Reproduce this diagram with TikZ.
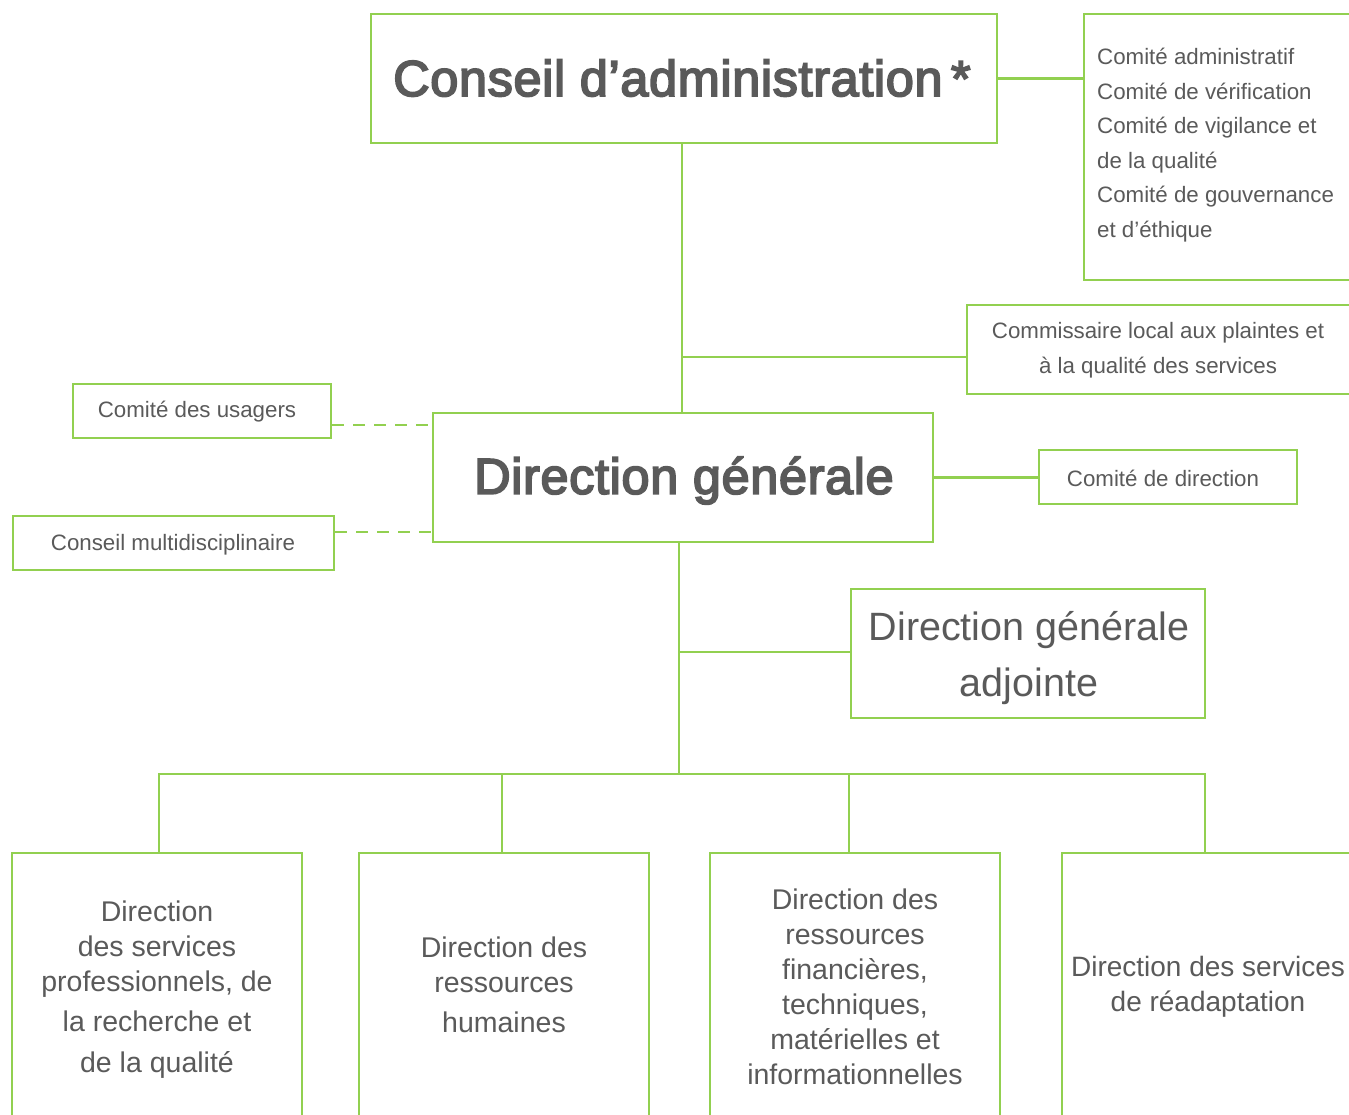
\documentclass[tikz,border=0pt]{standalone}
\usepackage{fontspec}
\setmainfont{Liberation Sans}
\newfontfamily\medfont[FakeBold=3.5,LetterSpace=1.2]{Liberation Sans}
\definecolor{grn}{HTML}{92D050}
\definecolor{txt}{HTML}{5A5A5A}
\begin{document}
\begin{tikzpicture}[x=1pt,y=-1pt,
  ln/.style={draw=grn,line width=2.8pt},
  dl/.style={draw=grn,line width=2.8pt,dash pattern=on 12pt off 9pt},
  bx/.style={draw=grn,line width=2.8pt,rectangle,inner sep=0pt,fill=white},
  tx/.style={text=txt,inner sep=0pt,align=center},
  small/.style={tx,font=\fontsize{22.3}{34.6}\selectfont},
  big/.style={tx,font=\fontsize{50.5}{56}\medfont},
  mid/.style={tx,font=\fontsize{39.5}{56}\selectfont},
  low/.style={tx,font=\fontsize{28.5}{35}\selectfont},
]
\useasboundingbox (0,0) rectangle (1349,1114);
\clip (0,0) rectangle (1349,1114);
\fill[white] (0,0) rectangle (1349,1114);

% boxes
\node[bx,minimum width=626pt,minimum height=129pt] (ca) at (684,78.5) {};
\node[bx,minimum width=316pt,minimum height=266pt] (com) at (1242,147) {};
\node[bx,minimum width=433pt,minimum height=89pt] (cpl) at (1183.5,349.5) {};
\node[bx,minimum width=500pt,minimum height=129pt] (dg) at (683,477.5) {};
\node[bx,minimum width=258pt,minimum height=54pt] (cu) at (202,411) {};
\node[bx,minimum width=321pt,minimum height=54pt] (cm) at (173.5,543) {};
\node[bx,minimum width=258pt,minimum height=54pt] (cd) at (1168,477) {};
\node[bx,minimum width=354pt,minimum height=129pt] (dga) at (1028,653.5) {};
\node[bx,minimum width=290pt,minimum height=347pt] (b1) at (157,1026.5) {};
\node[bx,minimum width=290pt,minimum height=347pt] (b2) at (504,1026.5) {};
\node[bx,minimum width=290pt,minimum height=347pt] (b3) at (855,1026.5) {};
\node[bx,minimum width=290pt,minimum height=347pt] (b4) at (1207,1026.5) {};

% texts
\node[big] (tca) at (682,78) {Conseil d’administration\,*};
\node[small,align=left,anchor=west] (tcom) at (1097,145) {Comité administratif\\Comité de vérification\\Comité de vigilance et\\de la qualité\\Comité de gouvernance\\et d’éthique};
\node[small] (tcpl) at (1158,350.5) {Commissaire local aux plaintes et\\à la qualité des services};
\node[big] (tdg) at (684,480.5) {Direction générale};
\node[small] (tcu) at (197,412) {Comité des usagers};
\node[small] (tcm) at (173,544.5) {Conseil multidisciplinaire};
\node[small] (tcd) at (1163,478) {Comité de direction};
\node[mid] (tdga) at (1029,658) {Direction générale\\adjointe};
\node[low] (tb1) at (157,990) {Direction\\des services\\professionnels, de\\[5pt]la recherche et\\[6pt]de la qualité};
\node[low] (tb2) at (504,985) {Direction des\\ressources\\[5pt]humaines};
\node[low] (tb3) at (855,987) {Direction des\\ressources\\financières,\\techniques,\\matérielles et\\informationnelles};
\node[low,font=\fontsize{28}{35}\selectfont] (tb4) at (1208,987) {Direction des services\\de réadaptation};

% connectors
\coordinate (j1) at (682,357);
\coordinate (bus) at (679,774);
\coordinate (j2) at (679,652);
\coordinate (d1) at (433,425);
\coordinate (d2) at (433,532);

\draw[ln] (ca.east) -- (ca.east -| com.west);
\draw[ln] (ca.south -| j1) -- (dg.north -| j1);
\draw[ln] (j1) -- (j1 -| cpl.west);
\draw[dl] (d1 -| cu.east) -- (d1);
\draw[dl] (d2 -| cm.east) -- (d2);
\draw[ln] (dg.east) -- (dg.east -| cd.west);
\draw[ln] (dg.south -| bus) -- (bus);
\draw[ln] (j2) -- (j2 -| dga.west);
\draw[ln] ([xshift=2pt]b1.north) -- ([xshift=2pt]b1.north |- bus) -- ([xshift=-2pt]b4.north |- bus) -- ([xshift=-2pt]b4.north);
\draw[ln] ([xshift=-2pt]b2.north) -- ([xshift=-2pt]b2.north |- bus);
\draw[ln] ([xshift=-6pt]b3.north) -- ([xshift=-6pt]b3.north |- bus);
\end{tikzpicture}
\end{document}
